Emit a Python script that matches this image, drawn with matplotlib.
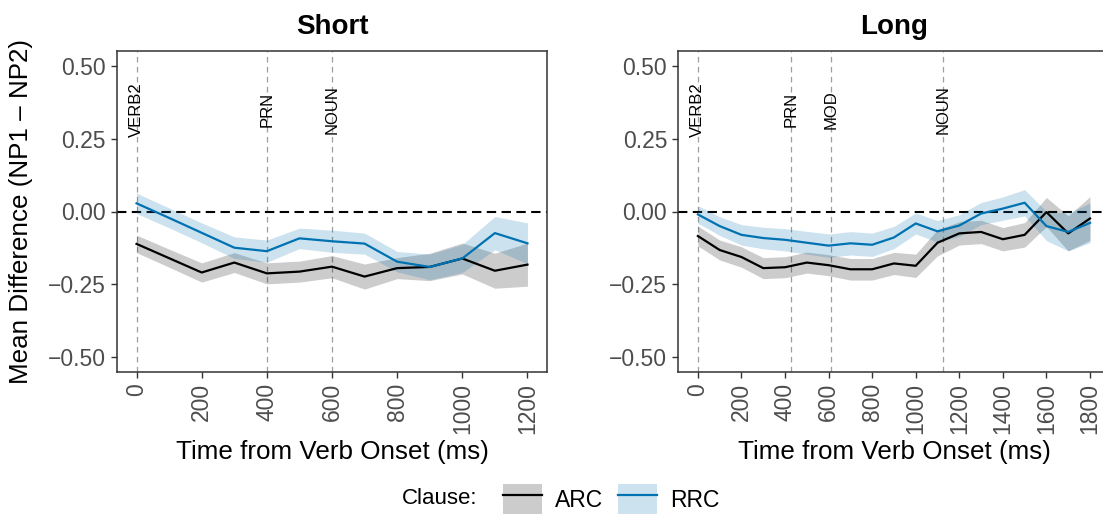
import matplotlib
matplotlib.use('Agg')
import matplotlib.pyplot as plt
from matplotlib.patches import Patch
from matplotlib.lines import Line2D
from matplotlib.legend_handler import HandlerTuple

plt.rcParams['font.family'] = ['Liberation Sans', 'DejaVu Sans']

# data: mean difference (NP1 - NP2) by time, with CI half widths
time_short = [0, 100, 200, 300, 400, 500, 600, 700, 800, 900, 1000, 1100, 1200]
arc_short = [-0.111, -0.160, -0.209, -0.175, -0.212, -0.206, -0.189, -0.223, -0.194, -0.190, -0.161, -0.203, -0.182]
arc_short_ci = [0.030, 0.031, 0.033, 0.034, 0.036, 0.036, 0.038, 0.043, 0.036, 0.047, 0.053, 0.060, 0.074]
rrc_short = [0.028, -0.022, -0.073, -0.124, -0.136, -0.092, -0.102, -0.110, -0.172, -0.190, -0.161, -0.074, -0.109]
rrc_short_ci = [0.035, 0.034, 0.034, 0.037, 0.038, 0.035, 0.038, 0.036, 0.035, 0.044, 0.048, 0.057, 0.070]

time_long = [0, 100, 200, 300, 400, 500, 600, 700, 800, 900, 1000, 1100, 1200, 1300, 1400, 1500, 1600, 1700, 1800]
arc_long = [-0.084, -0.132, -0.156, -0.194, -0.191, -0.175, -0.184, -0.198, -0.198, -0.178, -0.186, -0.107, -0.075,
            -0.070, -0.095, -0.080, -0.002, -0.075, -0.024]
arc_long_ci = [0.034, 0.034, 0.035, 0.036, 0.036, 0.036, 0.036, 0.037, 0.037, 0.038, 0.040, 0.045, 0.040,
               0.040, 0.040, 0.042, 0.050, 0.060, 0.075]
rrc_long = [-0.010, -0.050, -0.080, -0.091, -0.097, -0.107, -0.117, -0.109, -0.114, -0.089, -0.041, -0.068, -0.048,
            -0.007, 0.010, 0.030, -0.050, -0.070, -0.039]
rrc_long_ci = [0.030, 0.032, 0.035, 0.037, 0.038, 0.039, 0.040, 0.040, 0.040, 0.038, 0.036, 0.037, 0.037,
               0.038, 0.040, 0.045, 0.050, 0.065, 0.068]

# word onsets (ms)
events_short = ['VERB2', 'PRN', 'NOUN']
onsets_short = [0, 400, 600]
events_long = ['VERB2', 'PRN', 'MOD', 'NOUN']
onsets_long = [0, 427, 612, 1124]

yticks = [0.5, 0.25, 0.0, -0.25, -0.5]
yticklabels = ['0.50', '0.25', '0.00', '\u22120.25', '\u22120.50']

ARC_COL = 'black'
RRC_COL = '#0072B2'

fig = plt.figure(figsize=(11.03, 5.14), dpi=100)
ax1 = fig.add_axes([117 / 1103, 1 - 372 / 514, 430 / 1103, 321 / 514])
ax2 = fig.add_axes([678.3 / 1103, 1 - 372 / 514, 431.3 / 1103, 321 / 514])

panels = [
    (ax1, 'Short', time_short, arc_short, arc_short_ci, rrc_short, rrc_short_ci,
     events_short, onsets_short, [0, 200, 400, 600, 800, 1000, 1200], (-60, 1260)),
    (ax2, 'Long', time_long, arc_long, arc_long_ci, rrc_long, rrc_long_ci,
     events_long, onsets_long, list(range(0, 1801, 200)), (-90, 1890)),
]

for ax, title, t, arc, arc_ci, rrc, rrc_ci, events, onsets, xticks, xlim in panels:
    for name, x in zip(events, onsets):
        ax.axvline(x, color='#9E9E9E', lw=0.9, dashes=(4.5, 3.5), zorder=1)
        ax.text(x, 0.35, name, rotation=90, ha='center', va='center', fontsize=12, zorder=5)
    ax.axhline(0, color='black', lw=1.5, dashes=(4.5, 2.6), zorder=2)

    ax.fill_between(t, [m - c for m, c in zip(arc, arc_ci)], [m + c for m, c in zip(arc, arc_ci)],
                    color=ARC_COL, alpha=0.2, lw=0, zorder=3)
    ax.fill_between(t, [m - c for m, c in zip(rrc, rrc_ci)], [m + c for m, c in zip(rrc, rrc_ci)],
                    color=RRC_COL, alpha=0.2, lw=0, zorder=3)
    ax.plot(t, arc, color=ARC_COL, lw=1.6, zorder=4)
    ax.plot(t, rrc, color=RRC_COL, lw=1.6, zorder=4)

    ax.set_xlim(*xlim)
    ax.set_ylim(-0.55, 0.55)
    ax.set_xticks(xticks)
    ax.set_xticklabels([str(v) for v in xticks], rotation=90, ha='center', va='top')
    ax.set_yticks(yticks)
    ax.set_yticklabels(yticklabels)
    ax.tick_params(labelsize=16.5, labelcolor='#4D4D4D', color='#333333', length=4.5, width=1.0, pad=3.5)
    for sp in ax.spines.values():
        sp.set_color('#333333')
        sp.set_linewidth(1.1)

    ax.set_title(title, fontsize=20, fontweight='bold', pad=12)
    ax.set_xlabel('Time from Verb Onset (ms)', fontsize=18.7)
    ax.xaxis.set_label_coords(0.5, -0.212)

ax1.set_ylabel('Mean Difference (NP1 \u2013 NP2)', fontsize=18.7)
ax1.yaxis.label.set_va('center')
ax1.yaxis.set_label_coords(-0.224, 0.5)

# legend: grey / light-blue key box with the line on top
handles = [(Patch(facecolor=ARC_COL, alpha=0.2, lw=0), Line2D([], [], color=ARC_COL, lw=1.6)),
           (Patch(facecolor=RRC_COL, alpha=0.2, lw=0), Line2D([], [], color=RRC_COL, lw=1.6))]
fig.legend(handles, ['ARC', 'RRC'], handler_map={tuple: HandlerTuple(ndivide=1, pad=0)},
           loc='center', bbox_to_anchor=(611 / 1103, 1 - 499.5 / 514), ncol=2, frameon=False,
           fontsize=16.5, handlelength=1.7, handleheight=1.7, handletextpad=0.57,
           columnspacing=0.65, borderpad=0, borderaxespad=0)
fig.text(477 / 1103, 1 - 498 / 514, 'Clause:', ha='right', va='center', fontsize=16)

fig.savefig('out.png', dpi=100)
